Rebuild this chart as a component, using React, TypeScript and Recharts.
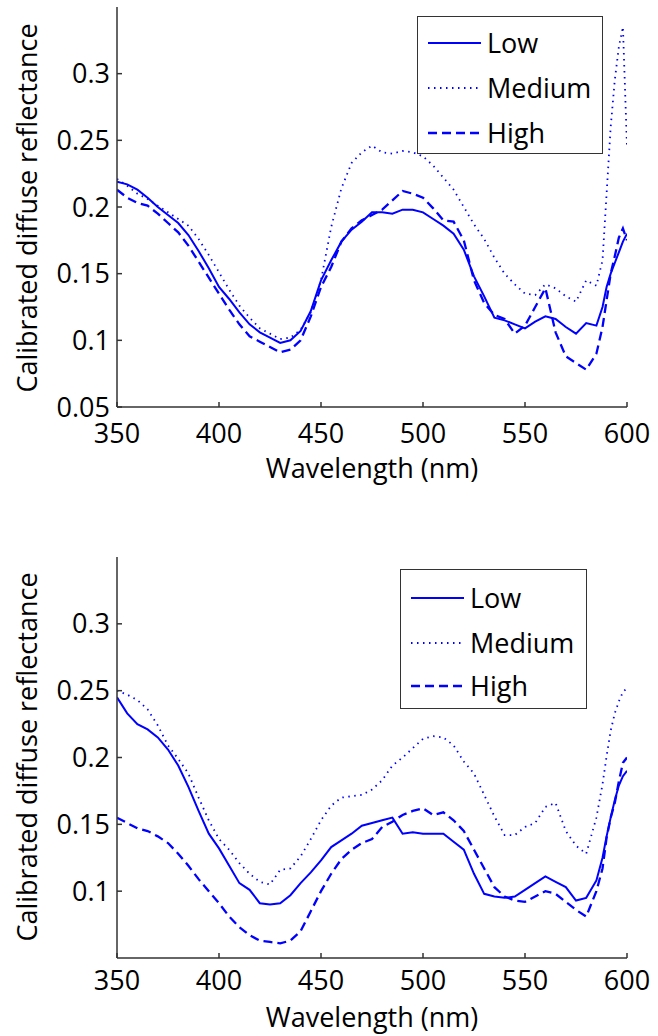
import { LineChart, Line, XAxis, YAxis, Legend } from 'recharts';

const wavelengths = [
  350, 355, 360, 365, 370, 375, 380, 385, 390, 395, 400, 405, 410, 415, 420, 425, 430, 435, 440, 445,
  450, 455, 460, 465, 470, 475, 480, 485, 490, 495, 500, 505, 510, 515, 520, 525, 530, 535, 540, 545,
  550, 555, 560, 565, 570, 575, 580, 585, 588, 590, 592, 594, 596, 598, 600,
];

const topLow = [
  0.219, 0.217, 0.213, 0.207, 0.2, 0.194, 0.188, 0.179, 0.167, 0.154, 0.14, 0.131, 0.121, 0.112, 0.106, 0.102, 0.098, 0.1, 0.107, 0.122,
  0.145, 0.16, 0.174, 0.183, 0.189, 0.196, 0.196, 0.195, 0.198, 0.198, 0.196, 0.191, 0.186, 0.18, 0.168, 0.148, 0.133, 0.117, 0.115, 0.112,
  0.109, 0.114, 0.118, 0.116, 0.11, 0.105, 0.113, 0.111, 0.125, 0.14, 0.15, 0.158, 0.166, 0.174, 0.18,
];
const topMedium = [
  0.221, 0.216, 0.21, 0.206, 0.201, 0.196, 0.191, 0.186, 0.176, 0.164, 0.151, 0.138, 0.126, 0.117, 0.109, 0.105, 0.101, 0.102, 0.108, 0.121,
  0.145, 0.185, 0.214, 0.233, 0.241, 0.246, 0.241, 0.24, 0.242, 0.241, 0.238, 0.231, 0.222, 0.213, 0.2, 0.187, 0.176, 0.162, 0.15, 0.142,
  0.135, 0.134, 0.142, 0.139, 0.133, 0.129, 0.145, 0.141, 0.16, 0.21, 0.26, 0.295, 0.32, 0.335, 0.245,
];
const topHigh = [
  0.213, 0.207, 0.203, 0.201, 0.195, 0.188, 0.181, 0.171, 0.159, 0.147, 0.135, 0.123, 0.112, 0.103, 0.099, 0.095, 0.091, 0.093, 0.1, 0.118,
  0.14, 0.155, 0.174, 0.184, 0.19, 0.194, 0.198, 0.205, 0.212, 0.21, 0.207, 0.199, 0.19, 0.189, 0.175, 0.145, 0.128, 0.119, 0.116, 0.105,
  0.111, 0.125, 0.139, 0.106, 0.088, 0.083, 0.078, 0.09, 0.11, 0.13, 0.15, 0.163, 0.177, 0.184, 0.175,
];

const botLow = [
  0.245, 0.233, 0.225, 0.221, 0.215, 0.206, 0.194, 0.178, 0.16, 0.143, 0.132, 0.119, 0.106, 0.101, 0.091, 0.09, 0.091, 0.097, 0.106, 0.114,
  0.123, 0.133, 0.138, 0.143, 0.149, 0.151, 0.153, 0.155, 0.143, 0.144, 0.143, 0.143, 0.143, 0.137, 0.131, 0.113, 0.098, 0.096, 0.095, 0.096,
  0.101, 0.106, 0.111, 0.107, 0.103, 0.093, 0.095, 0.108, 0.125, 0.141, 0.155, 0.168, 0.179, 0.186, 0.19,
];
const botMedium = [
  0.25, 0.247, 0.243, 0.236, 0.224, 0.209, 0.199, 0.188, 0.17, 0.153, 0.139, 0.131, 0.121, 0.113, 0.107, 0.105, 0.116, 0.117, 0.126, 0.139,
  0.153, 0.164, 0.17, 0.171, 0.172, 0.176, 0.183, 0.194, 0.2, 0.207, 0.214, 0.216, 0.215, 0.209, 0.197, 0.188, 0.172, 0.156, 0.142, 0.142,
  0.148, 0.151, 0.163, 0.166, 0.145, 0.134, 0.128, 0.155, 0.18, 0.201, 0.22, 0.233, 0.242, 0.249, 0.252,
];
const botHigh = [
  0.155, 0.151, 0.147, 0.145, 0.141, 0.136, 0.128, 0.119, 0.109, 0.1, 0.091, 0.081, 0.073, 0.067, 0.063, 0.062, 0.061, 0.063, 0.07, 0.085,
  0.1, 0.113, 0.124, 0.131, 0.136, 0.139, 0.148, 0.152, 0.157, 0.16, 0.162, 0.157, 0.159, 0.153, 0.145, 0.131, 0.117, 0.103, 0.096, 0.093,
  0.092, 0.096, 0.1, 0.098, 0.092, 0.086, 0.081, 0.1, 0.117, 0.14, 0.155, 0.166, 0.182, 0.196, 0.2,
];

const xTicks = [350, 400, 450, 500, 550, 600];
const topYTicks = [0.05, 0.1, 0.15, 0.2, 0.25, 0.3];
const botYTicks = [0.1, 0.15, 0.2, 0.25, 0.3];
const seriesNames = ['Low', 'Medium', 'High'];

const FONT = '"Open Sans", sans-serif';
const BLUE = '#0000ff';
const AXIS = '#333333';

const styles: Record<string, { dash?: string; width: number }> = {
  Low: { width: 2 },
  Medium: { dash: '1.5 4.5', width: 1.8 },
  High: { dash: '9 5', width: 2.3 },
};

function makeRows(low: number[], medium: number[], high: number[]) {
  return wavelengths.map((w, i) => ({ w, Low: low[i], Medium: medium[i], High: high[i] }));
}

function LegendBox({ rowYs, width, height }: { rowYs: number[]; width: number; height: number }) {
  return (
    <div
      style={{
        position: 'relative',
        width,
        height,
        boxSizing: 'border-box',
        border: `1.5px solid ${AXIS}`,
        background: '#fff',
        fontFamily: FONT,
        fontSize: 27,
        color: '#000',
      }}
    >
      {seriesNames.map((name, i) => (
        <div key={name} style={{ position: 'absolute', left: 0, top: rowYs[i] - 20, height: 40, width }}>
          <svg width={60} height={40} style={{ position: 'absolute', left: 9, top: 0 }}>
            <line
              x1={1}
              x2={54}
              y1={20}
              y2={20}
              stroke={BLUE}
              strokeWidth={styles[name].width}
              strokeDasharray={styles[name].dash}
            />
          </svg>
          <span style={{ position: 'absolute', left: 69, top: 0, lineHeight: '40px', whiteSpace: 'nowrap' }}>{name}</span>
        </div>
      ))}
    </div>
  );
}

function Panel({
  rows,
  yTicks,
  height,
  margin,
  legendPos,
  rowYs,
  xTickMargin,
}: {
  rows: ReturnType<typeof makeRows>;
  yTicks: number[];
  height: number;
  margin: { top: number; right: number; bottom: number; left: number };
  legendPos: { left: number; top: number; width: number; height: number };
  rowYs: number[];
  xTickMargin: number;
}) {
  const tickStyle = { fill: '#000', fontSize: 27, fontFamily: FONT };
  return (
    <LineChart width={658} height={height} data={rows} margin={margin}>
      <XAxis
        dataKey="w"
        type="number"
        domain={[350, 600]}
        ticks={xTicks}
        stroke={AXIS}
        strokeWidth={1.5}
        tickSize={-5}
        tickMargin={xTickMargin}
        tick={tickStyle}
        height={30}
        allowDataOverflow
      />
      <XAxis
        xAxisId="top"
        orientation="top"
        dataKey="w"
        type="number"
        domain={[350, 600]}
        ticks={xTicks}
        stroke={AXIS}
        strokeWidth={1.5}
        tickSize={-5}
        tick={false}
        height={0}
        allowDataOverflow
      />
      <YAxis
        type="number"
        domain={[0.05, 0.35]}
        ticks={yTicks}
        stroke={AXIS}
        strokeWidth={1.5}
        tickSize={-5}
        tickMargin={12}
        tick={tickStyle}
        width={60}
        allowDataOverflow
      />
      <YAxis
        yAxisId="right"
        orientation="right"
        type="number"
        domain={[0.05, 0.35]}
        ticks={yTicks}
        stroke={AXIS}
        strokeWidth={1.5}
        tickSize={-5}
        tick={false}
        width={0}
        allowDataOverflow
      />
      <Legend
        layout="vertical"
        align="center"
        verticalAlign="middle"
        content={() => <LegendBox rowYs={rowYs} width={legendPos.width} height={legendPos.height} />}
        wrapperStyle={{ position: 'absolute', left: legendPos.left, top: legendPos.top, width: legendPos.width, height: legendPos.height }}
      />
      {seriesNames.map((name) => (
        <Line
          key={name}
          dataKey={name}
          type="linear"
          stroke={BLUE}
          strokeWidth={styles[name].width}
          strokeDasharray={styles[name].dash}
          dot={false}
          activeDot={false}
          isAnimationActive={false}
        />
      ))}
    </LineChart>
  );
}

export default function App() {
  const topRows = makeRows(topLow, topMedium, topHigh);
  const botRows = makeRows(botLow, botMedium, botHigh);
  const titleStyle = { fontFamily: FONT, fontSize: 27, fill: '#000' };
  return (
    <div style={{ position: 'absolute', left: 0, top: 0, width: 658, height: 1036, background: '#fff' }}>
      <div style={{ position: 'absolute', left: 0, top: 0 }}>
        <Panel
          rows={topRows}
          yTicks={topYTicks}
          height={500}
          margin={{ top: 7, right: 31, bottom: 63, left: 57 }}
          legendPos={{ left: 417, top: 16, width: 186, height: 138 }}
          rowYs={[26, 71, 116]}
          xTickMargin={22}
        />
      </div>
      <div style={{ position: 'absolute', left: 0, top: 500 }}>
        <Panel
          rows={botRows}
          yTicks={botYTicks}
          height={536}
          margin={{ top: 57, right: 31, bottom: 48, left: 57 }}
          legendPos={{ left: 400, top: 69, width: 187, height: 140 }}
          rowYs={[28, 73, 116]}
          xTickMargin={18}
        />
      </div>
      <svg width={658} height={1036} style={{ position: 'absolute', left: 0, top: 0, pointerEvents: 'none' }}>
        <text transform="translate(37,208) rotate(-90)" textAnchor="middle" style={titleStyle}>
          Calibrated diffuse reflectance
        </text>
        <text transform="translate(37,757) rotate(-90)" textAnchor="middle" style={titleStyle}>
          Calibrated diffuse reflectance
        </text>
        <text x={372} y={478} textAnchor="middle" style={titleStyle}>
          Wavelength (nm)
        </text>
        <text x={372} y={1027} textAnchor="middle" style={titleStyle}>
          Wavelength (nm)
        </text>
      </svg>
    </div>
  );
}
